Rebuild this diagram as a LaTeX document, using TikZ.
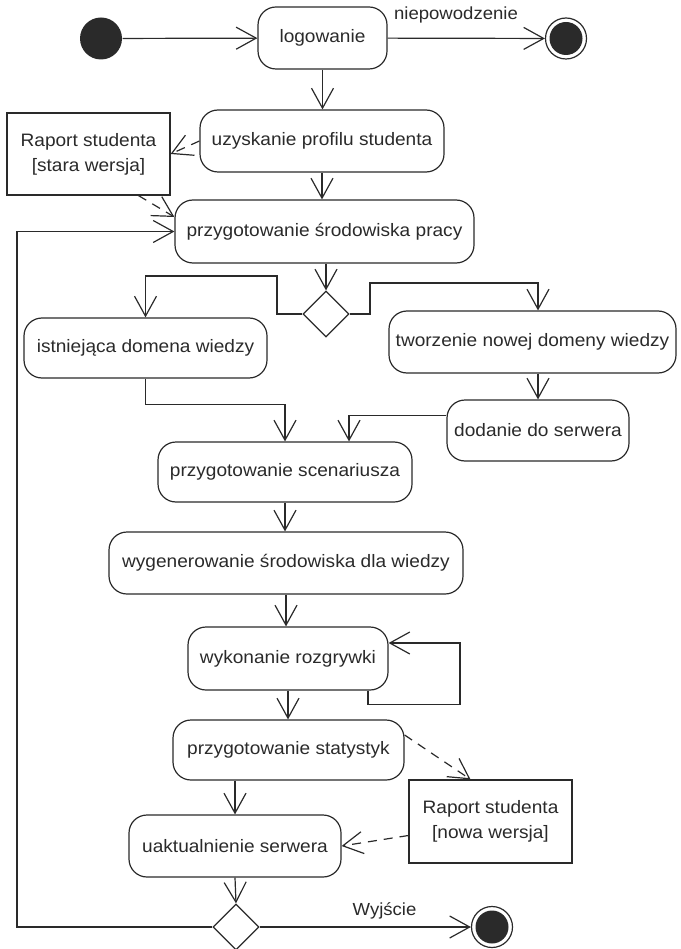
\documentclass[tikz,border=0pt]{standalone}
\usepackage{fontspec}
\setmainfont{Liberation Sans}[FakeStretch=1.06]
\usetikzlibrary{arrows.meta,shapes.geometric}

\definecolor{ink}{HTML}{2A2A2A}

\begin{document}
\begin{tikzpicture}[x=1pt,y=-1pt,line width=1.2pt,color=ink,
  activity/.style={draw, rounded corners=18pt, inner sep=0pt,
    font=\fontsize{18}{25}\selectfont},
  objbox/.style={draw, inner sep=0pt, align=center,
    font=\fontsize{18}{25}\selectfont},
  decision/.style={draw, diamond, minimum width=46pt, minimum height=46pt,
    inner sep=0pt},
  initial/.style={circle, fill=ink, minimum size=42pt, inner sep=0pt},
  final/.style={circle, draw, minimum size=41pt, inner sep=0pt,
    path picture={\fill[ink] (path picture bounding box.center) circle (16.5pt);}},
  flow/.style={-{Straight Barb[length=20pt,width=22pt]}},
  dep/.style={flow, dash pattern=on 9pt off 7pt},
  lbl/.style={anchor=base, font=\fontsize{17.5}{20}\selectfont}]

\useasboundingbox (0,0) rectangle (680,949);

% nodes
\node[initial] (start) at (101,38.5) {};
\node[activity, minimum width=129pt, minimum height=62pt] (login) at (322.5,38) {logowanie};
\node[final] (failend) at (566,38.5) {};
\node[activity, minimum width=244pt, minimum height=62pt] (profile) at (322,141) {uzyskanie profilu studenta};
\node[objbox, minimum width=163pt, minimum height=82pt] (oldrep) at (88.5,154) {Raport studenta\\{[}stara wersja{]}};
\node[activity, minimum width=299pt, minimum height=63pt] (prepenv) at (324.5,231.5) {przygotowanie środowiska pracy};
\node[decision] (dec1) at (326,314) {};
\node[activity, minimum width=243pt, minimum height=60pt] (exist) at (145.5,348) {istniejąca domena wiedzy};
\node[activity, minimum width=287pt, minimum height=62pt] (newdom) at (532.5,342) {tworzenie nowej domeny wiedzy};
\node[activity, minimum width=182pt, minimum height=61pt] (addsrv) at (538,430.5) {dodanie do serwera};
\node[activity, minimum width=254pt, minimum height=60pt] (scen) at (285,472) {przygotowanie scenariusza};
\node[activity, minimum width=354pt, minimum height=62pt] (gen) at (286,563) {wygenerowanie środowiska dla wiedzy};
\node[activity, minimum width=200pt, minimum height=63pt] (play) at (288,658.5) {wykonanie rozgrywki};
\node[activity, minimum width=231pt, minimum height=60pt] (stats) at (288.5,750) {przygotowanie statystyk};
\node[objbox, minimum width=163pt, minimum height=83pt] (newrep) at (490.5,821.5) {Raport studenta\\{[}nowa wersja{]}};
\node[activity, minimum width=212pt, minimum height=62pt] (update) at (235,846) {uaktualnienie serwera};
\node[decision] (dec2) at (236,927) {};
\node[final] (exitend) at (492,927) {};

% control flow
\draw[flow] (start) -- (login);
\draw[flow] (login) -- (failend);
\node[lbl] at (456,20) {niepowodzenie};
\draw[flow] (login.south) -- (login.south |- profile.north);
\draw[flow] (profile.south) -- (profile.south |- prepenv.north);
\draw[flow] (prepenv.south -| dec1.north) -- (dec1.north);
\draw[flow] (dec1.west) -| (277,276) -| (exist.north);
\draw[flow] (dec1.east) -| (370,283) -| (addsrv.north |- newdom.north);
\draw[flow] (addsrv.north |- newdom.south) -- (addsrv.north);
\draw[flow] (exist.south) -- ++(0,26) -| (scen.north);
\draw[flow] ([yshift=15pt]addsrv.west) -| ([xshift=64pt]scen.north);
\draw[flow] (scen.south) -- (scen.south |- gen.north);
\draw[flow] (gen.south) -- (gen.south |- play.north);
\draw[flow] ([xshift=80pt]play.south) -- ++(0,14) -- ++(92,0) |- ([yshift=15.5pt]play.east);
\draw[flow] (play.south) -- (play.south |- stats.north);
\draw[flow] (stats.south -| update.north) -- (update.north);
\draw[flow] (update.south) -- (dec2.north);
\draw[flow] (dec2.east) -- (exitend.west);
\node[lbl] at (384.5,915) {Wyjście};
\draw[flow] (dec2.west) -- (17,927) |- (prepenv.west);

% object flow
\draw[dep] (profile.west) -- (oldrep.east);
\draw[dep] ([xshift=50pt]oldrep.south) -- ([yshift=14.5pt]prepenv.west);
\draw[dep] ([yshift=15pt]stats.east) -- ([xshift=-20pt]newrep.north);
\draw[dep] ([yshift=-14pt]newrep.west) -- (update.east);
\end{tikzpicture}
\end{document}
